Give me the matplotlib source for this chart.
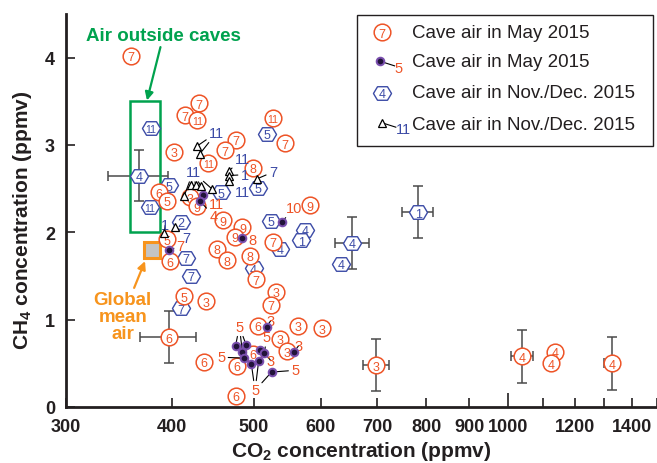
import matplotlib
matplotlib.use("Agg")
import matplotlib.pyplot as plt
from matplotlib.path import Path
from matplotlib.patches import Rectangle
from matplotlib.ticker import FixedLocator, FixedFormatter, NullFormatter

plt.rcParams["font.family"] = ["Liberation Sans", "DejaVu Sans"]
plt.rcParams["mathtext.default"] = "regular"

RED = "#EE5427"
BLUE = "#3C4BA6"
DOT_FACE = "#22143A"
DOT_EDGE = "#7A4FAE"
GREEN = "#00A24E"
ORANGE = "#F7941D"
INK = "#231F20"
ERR = "#4A4A4A"

# cave air, May 2015 (numbered circles)
may_x = [358, 431, 415, 429, 527, 545, 476, 462, 403, 442, 499, 386, 395, 421, 428,
         460, 583, 485, 475, 395, 398, 452, 465, 495, 527, 503, 414, 439, 532, 524,
         397, 437, 506, 478, 499, 476, 537, 565, 602, 548, 698, 1039, 1136, 1124, 1326]
may_y = [4.02, 3.48, 3.34, 3.29, 3.31, 3.02, 3.06, 2.94, 2.92, 2.79, 2.74, 2.46, 2.36, 2.40, 2.30,
         2.14, 2.31, 2.06, 1.95, 1.92, 1.67, 1.81, 1.68, 1.73, 1.89, 1.46, 1.27, 1.21, 1.32, 1.17,
         0.80, 0.52, 0.93, 0.47, 0.61, 0.13, 0.78, 0.93, 0.90, 0.64, 0.48, 0.58, 0.63, 0.50, 0.50]
may_id = ["7", "7", "7", "11", "11", "7", "7", "7", "3", "11", "8", "6", "5", "3", "9",
          "9", "9", "9", "9", "5", "6", "8", "8", "8", "7", "7", "5", "3", "3", "7",
          "6", "6", "6", "6", "6", "6", "3", "3", "3", "3", "3", "4", "4", "4", "4"]

# cave air, May 2015 (dots with leader lines)
dot_x = [436, 432, 540, 484, 397, 518, 558, 476, 490, 485, 487, 509, 515, 497, 507, 525]
dot_y = [2.43, 2.36, 2.12, 1.94, 1.80, 0.92, 0.63, 0.70, 0.71, 0.63, 0.56, 0.65, 0.62, 0.49, 0.53, 0.40]
dot_lbl = ["11", "4", "10", "8", "7", "3", "3", "5", "5", "5", "3", "5", "5"]
dot_lbl_x = [452, 448, 559, 499, 410, 524, 565, 481, 458, 518, 524, 502, 560]
dot_lbl_y = [2.33, 2.19, 2.28, 1.91, 1.84, 0.99, 0.70, 0.92, 0.57, 0.80, 0.53, 0.19, 0.42]
dot_lbl_to = [[0], [1], [2], [3], [4], [5], [6], [7, 8, 9], [10], [11, 12], [12], [13, 14, 15], [15]]

# cave air, Nov./Dec. 2015 (numbered hexagons)
nov_x = [378, 518, 366, 397, 457, 506, 377, 524, 410, 416, 500, 538, 575, 569, 654, 635, 783, 422, 410]
nov_y = [3.20, 3.13, 2.65, 2.54, 2.46, 2.51, 2.29, 2.13, 2.12, 1.71, 1.59, 1.81, 2.03, 1.91, 1.88,
         1.64, 2.23, 1.50, 1.13]
nov_id = ["11", "5", "4", "5", "5", "5", "11", "5", "2", "7", "4", "4", "4", "1", "4", "4", "1", "7", "7"]

# cave air, Nov./Dec. 2015 (triangles with leader lines)
tri_x = [429, 432, 422, 427, 433, 414, 446, 467, 467, 468, 504, 404, 392]
tri_y = [2.99, 2.90, 2.54, 2.54, 2.53, 2.42, 2.50, 2.70, 2.65, 2.59, 2.61, 2.06, 1.99]
tri_lbl = ["11", "11", "11", "1", "11", "7", "7", "1"]
tri_lbl_x = [452, 424, 485, 488, 485, 527, 416, 393]
tri_lbl_y = [3.14, 2.69, 2.84, 2.66, 2.46, 2.69, 1.94, 2.08]
tri_lbl_to = [[0, 1], [2, 3, 4, 5, 6], [7], [8], [9], [10], [11], [12]]

# error bars (mean +/- sd)
err_x = [366, 397, 698, 654, 783, 1039, 1326]
err_y = [2.65, 0.80, 0.48, 1.88, 2.23, 0.58, 0.50]
err_xe = [30, 30, 25, 30, 33, 32, 27]
err_ye = [0.29, 0.30, 0.30, 0.30, 0.30, 0.30, 0.30]

# outside air range and global mean
out_x = [357, 387]
out_y = [2.0, 3.5]
glob_x, glob_y = 379, 1.80

hex_marker = Path([(-1, 0), (-0.55, 0.75), (0.55, 0.75), (1, 0), (0.55, -0.75), (-0.55, -0.75), (-1, 0)],
                  closed=True)


def num_size(s):
    return 9 if len(s) == 1 else 7.5


fig = plt.figure(figsize=(6.57, 4.64), dpi=100)
ax = fig.add_axes([0.1005, 0.1207, 0.8995, 0.847])
ax.set_xscale("log")
ax.set_xlim(300, 1500)
ax.set_ylim(0, 4.5)

ax.errorbar(err_x, err_y, xerr=err_xe, yerr=err_ye, fmt="none", ecolor=ERR,
            elinewidth=1.1, capsize=3.5, capthick=1.1, zorder=2)

# green box + label
ax.add_patch(Rectangle((out_x[0], out_y[0]), out_x[1] - out_x[0], out_y[1] - out_y[0],
                       fill=False, ec=GREEN, lw=1.8, zorder=2.5))
ax.annotate("Air outside caves", xy=(374, 3.51), xytext=(391, 4.25), ha="center", va="center",
            fontsize=13.5, fontweight="bold", color=GREEN,
            arrowprops=dict(arrowstyle="-|>", color=GREEN, lw=1.6, mutation_scale=12, shrinkA=0, shrinkB=0))

# global mean air
ax.plot([glob_x], [glob_y], ls="none", marker="s", ms=11, mfc="#C4C4C4", mec=ORANGE, mew=2.2, zorder=2.5)
ax.annotate("Global\nmean\nair", xy=(372, 1.67), xytext=(350, 1.04), ha="center", va="center",
            fontsize=13.5, fontweight="bold", color=ORANGE, linespacing=1.0,
            arrowprops=dict(arrowstyle="-|>", color=ORANGE, lw=1.6, mutation_scale=12, shrinkA=0, shrinkB=0))

z = 3.0
for x, y, s in zip(nov_x, nov_y, nov_id):
    ax.plot([x], [y], ls="none", marker=hex_marker, ms=13, mfc="white", mec=BLUE, mew=1.0, zorder=z)
    ax.text(x, y, s, ha="center", va="center_baseline", fontsize=num_size(s), color=BLUE, zorder=z + 0.005)
    z += 0.01
for x, y, s in zip(may_x, may_y, may_id):
    ax.plot([x], [y], ls="none", marker="o", ms=12, mfc="white", mec=RED, mew=1.1, zorder=z)
    ax.text(x, y, s, ha="center", va="center_baseline", fontsize=num_size(s), color=RED, zorder=z + 0.005)
    z += 0.01

# leader lines
for s, lx, ly, idx in zip(dot_lbl, dot_lbl_x, dot_lbl_y, dot_lbl_to):
    for k, i in enumerate(idx):
        ax.annotate(s, xy=(dot_x[i], dot_y[i]), xytext=(lx, ly), ha="center", va="center",
                    fontsize=10.5, color=RED if k == 0 else (0, 0, 0, 0), zorder=5,
                    arrowprops=dict(arrowstyle="-", color="black", lw=0.8, shrinkA=0, shrinkB=0))
for s, lx, ly, idx in zip(tri_lbl, tri_lbl_x, tri_lbl_y, tri_lbl_to):
    for k, i in enumerate(idx):
        ax.annotate(s, xy=(tri_x[i], tri_y[i]), xytext=(lx, ly), ha="center", va="center",
                    fontsize=10.5, color=BLUE if k == 0 else (0, 0, 0, 0), zorder=5,
                    arrowprops=dict(arrowstyle="-", color="black", lw=0.8, shrinkA=0, shrinkB=0))

ax.plot(dot_x, dot_y, ls="none", marker="o", ms=5.5, mfc=DOT_FACE, mec=DOT_EDGE, mew=1.4, zorder=6)
ax.plot(tri_x, tri_y, ls="none", marker="^", ms=6, mfc="white", mec="black", mew=0.9, zorder=6)

# legend drawn by hand
ax.add_patch(Rectangle((0.492, 0.664), 0.501, 0.333, transform=ax.transAxes, fc="white",
                       ec=INK, lw=1.0, zorder=7))
rows = [0.954, 0.878, 0.799, 0.720]
labels = ["Cave air in May 2015", "Cave air in May 2015",
          "Cave air in Nov./Dec. 2015", "Cave air in Nov./Dec. 2015"]
for r, t in zip(rows, labels):
    ax.text(0.585, r, t, transform=ax.transAxes, ha="left", va="center", fontsize=13.5, color=INK, zorder=8)
ax.plot([0.535], [rows[0]], transform=ax.transAxes, marker="o", ms=12, mfc="white", mec=RED, mew=1.1, zorder=8)
ax.text(0.535, rows[0], "7", transform=ax.transAxes, ha="center", va="center_baseline", fontsize=9, color=RED, zorder=8)
ax.plot([0.531, 0.556], [0.880, 0.868], transform=ax.transAxes, color="black", lw=0.8, zorder=8)
ax.plot([0.531], [0.880], transform=ax.transAxes, marker="o", ms=5.5, mfc=DOT_FACE, mec=DOT_EDGE, mew=1.4, zorder=8)
ax.text(0.563, 0.862, "5", transform=ax.transAxes, ha="center", va="center", fontsize=10.5, color=RED, zorder=8)
ax.plot([0.535], [rows[2]], transform=ax.transAxes, marker=hex_marker, ms=13, mfc="white", mec=BLUE, mew=1.0, zorder=8)
ax.text(0.535, rows[2], "4", transform=ax.transAxes, ha="center", va="center_baseline", fontsize=9, color=BLUE, zorder=8)
ax.plot([0.535, 0.558], [0.723, 0.712], transform=ax.transAxes, color="black", lw=0.8, zorder=8)
ax.plot([0.535], [0.723], transform=ax.transAxes, marker="^", ms=6, mfc="white", mec="black", mew=0.9, zorder=8)
ax.text(0.571, 0.707, "11", transform=ax.transAxes, ha="center", va="center", fontsize=10.5, color=BLUE, zorder=8)

# axes styling
xt = [300, 400, 500, 600, 700, 800, 900, 1000, 1200, 1400]
ax.xaxis.set_major_locator(FixedLocator(xt))
ax.xaxis.set_major_formatter(FixedFormatter([str(v) for v in xt]))
ax.xaxis.set_minor_locator(FixedLocator([1100, 1300, 1500]))
ax.xaxis.set_minor_formatter(NullFormatter())
ax.set_yticks([0, 1, 2, 3, 4])
for sp in ["top", "right"]:
    ax.spines[sp].set_visible(False)
for sp in ["left", "bottom"]:
    ax.spines[sp].set_linewidth(2.0)
    ax.spines[sp].set_color(INK)
ax.tick_params(which="both", direction="in", length=6.5, width=1.2, color=INK, labelcolor=INK)
ax.tick_params(axis="x", pad=8)
ax.tick_params(axis="y", pad=8)
for lab in ax.get_xticklabels() + ax.get_yticklabels():
    lab.set_fontweight("bold")
    lab.set_fontsize(13)
# the 1000 tick is drawn longer
ax.xaxis.get_major_ticks()[xt.index(1000)].tick1line.set_markersize(10)

ax.set_xlabel("CO$_2$ concentration (ppmv)", fontsize=15, fontweight="bold", color=INK, va="center")
ax.xaxis.set_label_coords(0.5, -0.110)
ax.set_ylabel("CH$_4$ concentration (ppmv)", fontsize=15, fontweight="bold", color=INK, va="center")
ax.yaxis.set_label_coords(-0.073, 0.478)

fig.savefig("out.png", dpi=100)
